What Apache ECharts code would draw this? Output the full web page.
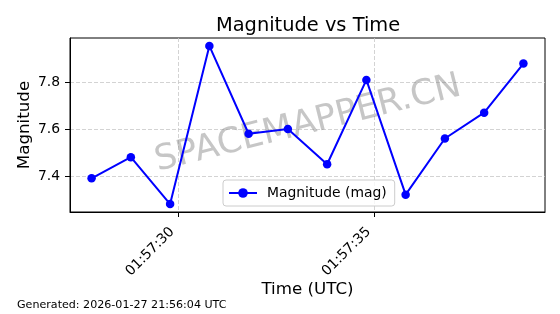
<!DOCTYPE html>
<html>
<head>
<meta charset="utf-8">
<script src="https://cdn.jsdelivr.net/npm/echarts@6/dist/echarts.min.js"></script>
<style>
html,body{margin:0;padding:0;background:#fff;}
#c{width:560px;height:314px;}
</style>
</head>
<body>
<div id="c"></div>
<script>
// Data
var times = [
  '2026-01-27T01:57:27.8Z','2026-01-27T01:57:28.8Z','2026-01-27T01:57:29.8Z',
  '2026-01-27T01:57:30.8Z','2026-01-27T01:57:31.8Z','2026-01-27T01:57:32.8Z',
  '2026-01-27T01:57:33.8Z','2026-01-27T01:57:34.8Z','2026-01-27T01:57:35.8Z',
  '2026-01-27T01:57:36.8Z','2026-01-27T01:57:37.8Z','2026-01-27T01:57:38.8Z'
];
var magnitudes = [7.39, 7.48, 7.28, 7.955, 7.58, 7.60, 7.45, 7.81, 7.32, 7.56, 7.67, 7.88];
var xTickLabels = ['2026-01-27T01:57:30Z', '2026-01-27T01:57:35Z'];
var yTicks = [7.4, 7.6, 7.8];
var xMin = '2026-01-27T01:57:27.25Z';
var xMax = '2026-01-27T01:57:39.35Z';
var yMin = 7.246;
var yMax = 7.989;

var FONT = 'DejaVu Sans';
function pad(n){return (n<10?'0':'')+n;}
function fmtTime(v){
  var d = new Date(v);
  return pad(d.getUTCHours())+':'+pad(d.getUTCMinutes())+':'+pad(d.getUTCSeconds());
}

var chart = echarts.init(document.getElementById('c'), null, {renderer:'canvas'});
var seriesData = times.map(function(t,i){ return [Date.parse(t), magnitudes[i]]; });
var xTickVals = xTickLabels.map(function(t){ return Date.parse(t); });

chart.setOption({
  animation: false,
  backgroundColor: '#ffffff',
  title: {
    text: 'Magnitude vs Time',
    left: 211, top: 11,
    textStyle: {fontFamily: FONT, fontSize: 19.4, fontWeight: 'normal', color: '#000'}
  },
  grid: {
    left: 70, right: 15, top: 38, bottom: 102,
    show: true, borderColor: '#000', borderWidth: 1, backgroundColor: 'transparent',
    containLabel: false
  },
  legend: {
    left: 223, top: 180,
    padding: [6, 8, 6, 5],
    itemWidth: 28, itemHeight: 12,
    backgroundColor: 'rgba(255,255,255,0.8)',
    borderColor: '#cccccc', borderWidth: 1, borderRadius: 3,
    textStyle: {fontFamily: FONT, fontSize: 13.9, color: '#000', padding: [0,0,0,5]},
    data: ['Magnitude (mag)']
  },
  xAxis: {
    type: 'value',
    min: Date.parse(xMin), max: Date.parse(xMax),
    scale: true,
    name: 'Time (UTC)', nameLocation: 'middle', nameGap: 69,
    nameMoveOverlap: false,
    nameTextStyle: {fontFamily: FONT, fontSize: 16.7, color: '#000'},
    axisLine: {show: true, onZero: false, lineStyle: {color: '#000', width: 1}},
    axisTick: {show: true, length: 5, lineStyle: {color: '#000'}, customValues: xTickVals},
    axisLabel: {
      customValues: xTickVals, rotate: 45, margin: 12,
      padding: [0, 8, 0, 0],
      fontFamily: FONT, fontSize: 13.9, color: '#000',
      formatter: function(v){ return fmtTime(v); },
      hideOverlap: false, showMinLabel: true, showMaxLabel: true
    },
    splitLine: {show: true, lineStyle: {color: '#c8c8c8', type: [4, 2], width: 0.8}},
    minorTick: {show: false}
  },
  yAxis: {
    type: 'value',
    min: yMin, max: yMax,
    scale: true,
    name: 'Magnitude', nameLocation: 'middle', nameGap: 37, nameRotate: 90,
    nameMoveOverlap: false,
    nameTextStyle: {fontFamily: FONT, fontSize: 16.7, color: '#000'},
    axisLine: {show: true, lineStyle: {color: '#000', width: 1}},
    axisTick: {show: true, length: 5, lineStyle: {color: '#000'}, customValues: yTicks},
    axisLabel: {
      customValues: yTicks, margin: 10,
      fontFamily: FONT, fontSize: 13.9, color: '#000',
      formatter: function(v){ return Number(v).toFixed(1); },
      showMinLabel: true, showMaxLabel: true
    },
    splitLine: {show: true, lineStyle: {color: '#c8c8c8', type: [4, 2], width: 0.8}}
  },
  graphic: [
    {
      type: 'text', x: 308, y: 124, z: 1,
      rotation: 14 * Math.PI / 180,
      silent: true,
      style: {
        text: 'SPACEMAPPER.CN', fontFamily: FONT, fontSize: 35,
        fill: 'rgba(128,128,128,0.45)', align: 'center', verticalAlign: 'middle'
      }
    },
    {
      type: 'text', x: 17, y: 305, z: 1,
      style: {
        text: 'Generated: 2026-01-27 21:56:04 UTC', fontFamily: FONT, fontSize: 11.1,
        fill: '#000', align: 'left', verticalAlign: 'middle'
      }
    }
  ],
  series: [{
    name: 'Magnitude (mag)',
    type: 'line',
    data: seriesData,
    z: 5,
    symbol: 'circle', symbolSize: 8.5,
    showAllSymbol: true,
    lineStyle: {color: '#0000ff', width: 2},
    itemStyle: {color: '#0000ff'}
  }]
});
</script>
</body>
</html>
